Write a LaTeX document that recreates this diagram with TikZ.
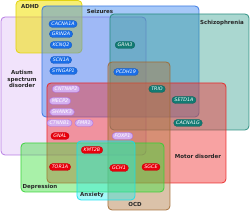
\documentclass[tikz,border=0pt]{standalone}
\usepackage{fontspec}
\setmainfont{DejaVu Sans}
\definecolor{adhdc}{HTML}{F0E000}
\definecolor{adhdd}{HTML}{E0D000}
\definecolor{seizc}{HTML}{3A86F0}
\definecolor{seizd}{HTML}{3070E0}
\definecolor{schc}{HTML}{2A9A8A}
\definecolor{schd}{HTML}{208878}
\definecolor{autc}{HTML}{C890F0}
\definecolor{autd}{HTML}{B070E0}
\definecolor{motc}{HTML}{F03030}
\definecolor{motd}{HTML}{E82020}
\definecolor{depc}{HTML}{40E040}
\definecolor{depd}{HTML}{30D030}
\definecolor{anxc}{HTML}{20F0F0}
\definecolor{anxd}{HTML}{10E0F0}
\definecolor{ocdc}{HTML}{B07840}
\definecolor{ocdd}{HTML}{A06830}
\definecolor{gblue}{HTML}{1A6EE8}
\definecolor{gteal}{HTML}{117A72}
\definecolor{glav}{HTML}{D4B0F0}
\definecolor{glavd}{HTML}{B070E0}
\definecolor{gred}{HTML}{E8000C}
\begin{document}
\begin{tikzpicture}[x=1pt,y=-1pt,
  region/.style={rounded corners=4pt, line width=0.8pt, fill opacity=0.45, draw opacity=0.9},
  lab/.style={font=\fontsize{5.5}{6.5}\selectfont\bfseries, text=black!85, inner sep=0pt, align=center},
  gene/.style={rounded corners=3.5pt, minimum height=7pt, inner xsep=2.5pt, inner ysep=0pt,
     font=\fontsize{4.8}{5}\selectfont\itshape, text=white},
  gb/.style={gene, fill=gblue, draw=gblue!80!black, line width=0.3pt},
  gt/.style={gene, fill=gteal, draw=gteal!80!black, line width=0.3pt},
  gl/.style={gene, fill=glav, draw=glavd, line width=0.4pt, text=white},
  gr/.style={gene, fill=gred, draw=gred!85!black, line width=0.3pt}
]
\useasboundingbox (0,0) rectangle (250,211);
% regions
\path[region, fill=autc, fill opacity=0.25, draw=autd] (1,17) rectangle (146,155);
\path[region, fill=adhdc, fill opacity=0.55, draw=adhdd] (16,0.5) rectangle (82,53);
\path[region, fill=seizc, draw=seizd] (42,6) rectangle (199,117);
\path[region, fill=schc, fill opacity=0.4, draw=schd] (110,14) rectangle (249,130);
\path[region, fill=motc, draw=motd] (47,83) rectangle (226,183);
\path[region, fill=ocdc, draw=ocdd] (108,62) rectangle (170,210);
\path[region, fill=depc, draw=depd] (21,143) rectangle (164,192);
\path[region, fill=anxc, fill opacity=0.4, draw=anxd] (77,141) rectangle (135,200);
% labels
\node[lab] (l-adhd) at (30,6) {ADHD};
\node[lab] (l-seiz) at (100,11) {Seizures};
\node[lab] (l-sch) at (222,23) {Schizophrenia};
\node[lab] (l-aut) at (22,79) {Autism\\spectrum\\disorder};
\node[lab] (l-mot) at (198,156) {Motor disorder};
\node[lab] (l-dep) at (40,187) {Depression};
\node[lab] (l-anx) at (92,195) {Anxiety};
\node[lab] (l-ocd) at (135,205) {OCD};
% genes
\node[gb] (cacna1a) at (63,24) {CACNA1A};
\node[gb] (grin2a) at (61,34) {GRIN2A};
\node[gb] (kcnq2) at (61,45) {KCNQ2};
\node[gb] (scn1a) at (61,60) {SCN1A};
\node[gb] (syngap1) at (63.5,71) {SYNGAP1};
\node[gb] (pcdh19) at (126,72) {PCDH19};
\node[gt] (gria3) at (125,45) {GRIA3};
\node[gt] (trio) at (157,89) {TRIO};
\node[gt] (setd1a) at (184,100) {SETD1A};
\node[gt] (cacna1g) at (188,123) {CACNA1G};
\node[gl] (cntnap2) at (66,89) {CNTNAP2};
\node[gl] (mecp2) at (60,101) {MECP2};
\node[gl] (shank3) at (62,112) {SHANK3};
\node[gl] (ctnnb1) at (59.5,123) {CTNNB1};
\node[gl] (fmr1) at (84,123) {FMR1};
\node[gl] (foxp1) at (122.5,136) {FOXP1};
\node[gr] (gnal) at (60,136) {GNAL};
\node[gr] (kmt2b) at (92,150) {KMT2B};
\node[gr] (tor1a) at (60,167) {TOR1A};
\node[gr] (gch1) at (119,168) {GCH1};
\node[gr] (sgce) at (151,167) {SGCE};
\end{tikzpicture}
\end{document}
